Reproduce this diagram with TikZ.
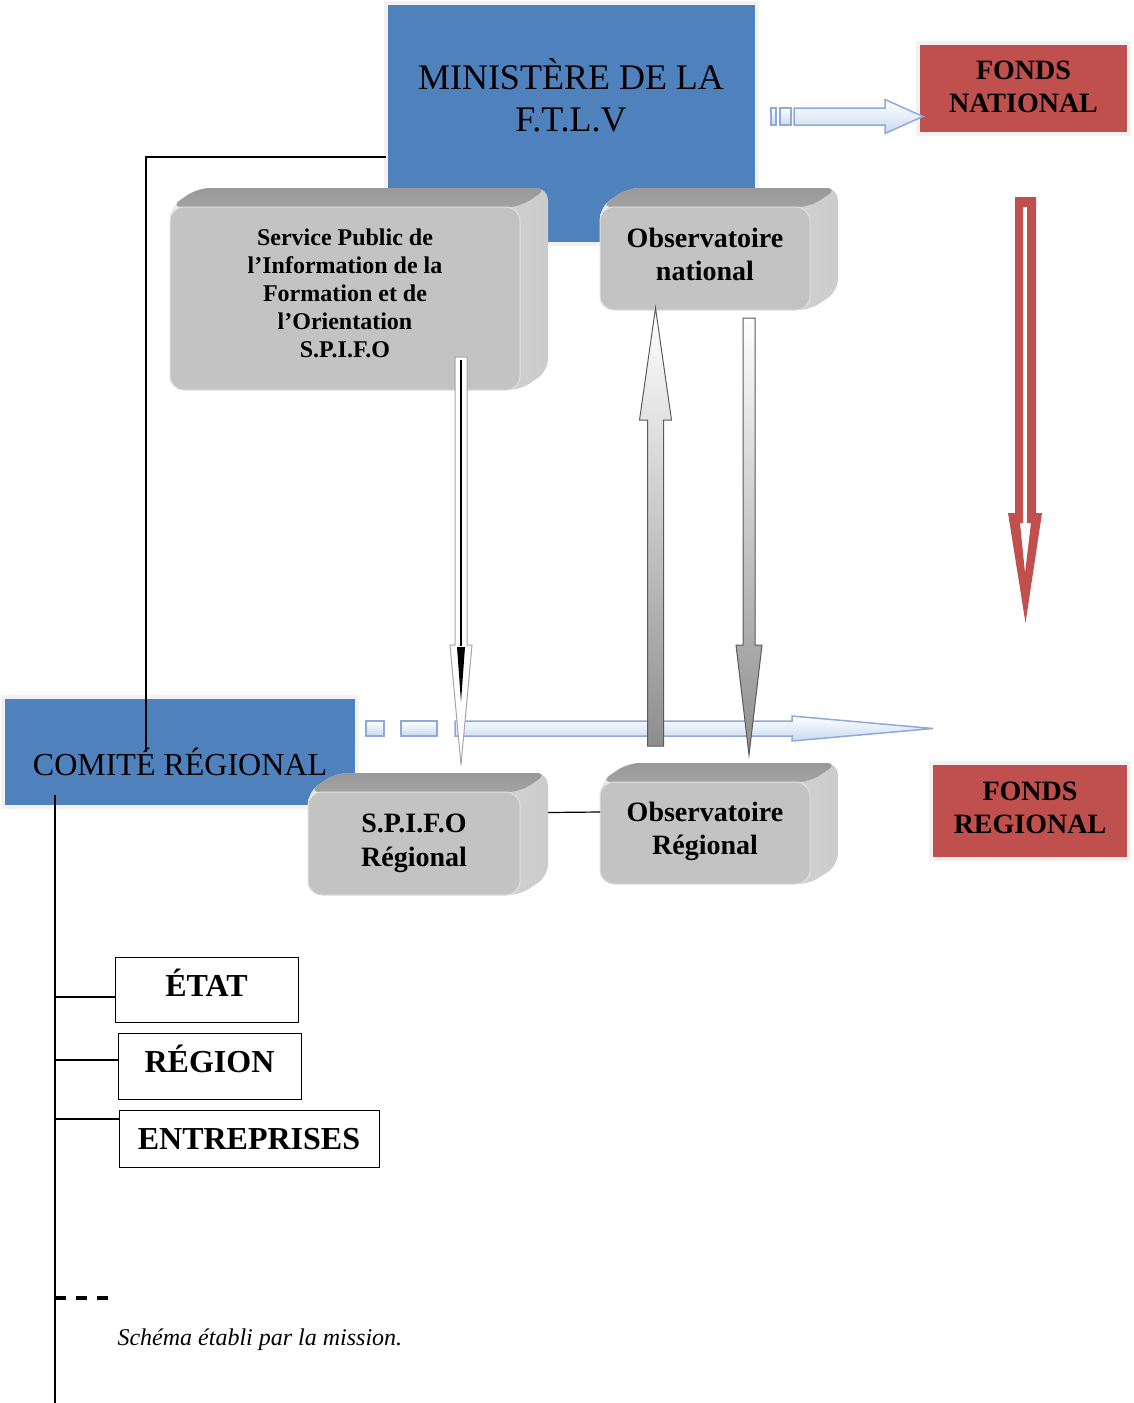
\documentclass[tikz,border=0pt]{standalone}
\usepackage{fontspec}
\setmainfont{Liberation Serif}
\usetikzlibrary{calc}

\definecolor{ministryblue}{HTML}{4F81BD}
\definecolor{fondsred}{HTML}{C0504D}
\definecolor{framegray}{HTML}{F2F2F2}
\definecolor{facefront}{HTML}{C3C3C3}
\definecolor{facetop}{HTML}{A2A2A2}
\definecolor{flowedge}{HTML}{8EAADB}
\definecolor{flowfill}{HTML}{C9DAF0}
\definecolor{greyedge}{HTML}{5A5A5A}
\definecolor{greyfill}{HTML}{8E8E8E}

\pgfdeclarelayer{bg}
\pgfdeclarelayer{sides}
\pgfsetlayers{bg,sides,main}

\tikzset{
  bluebox/.style={fill=ministryblue, draw=framegray, line width=4pt, inner sep=0pt, outer sep=0pt},
  redbox/.style={fill=fondsred, draw=framegray, line width=4pt, inner sep=0pt, outer sep=0pt},
  redtext/.style={font=\bfseries\fontsize{28}{33}\selectfont, align=center},
  frontface/.style={fill=facefront, draw=black!12, line width=1pt, rounded corners=14pt,
    inner sep=0pt, outer sep=0pt},
  facetext/.style={align=center, inner sep=0pt},
  listbox/.style={draw=black, line width=1pt, inner sep=0pt, outer sep=0pt,
    font=\bfseries\fontsize{32}{36}\selectfont, text height=22pt, text depth=0pt},
  link/.style={draw=black, line width=1.2pt},
  flowarrow/.style={draw=flowedge, line width=1.5pt, top color=white, bottom color=flowfill},
  greyarrow/.style={draw=greyedge, line width=1pt, top color=white, bottom color=greyfill},
  thinarrow/.style={draw=black!35, line width=1pt, fill=white},
}

% horizontal block arrow: style, tail, tip, shaft half width, head half width, head length
\newcommand\harrow[6]{%
  \path[#1] let \p1=(#2), \p2=(#3) in
    (\x1,\y1+#4pt) -- (\x2-#6pt,\y1+#4pt) -- (\x2-#6pt,\y1+#5pt) -- (\x2,\y2)
    -- (\x2-#6pt,\y1-#5pt) -- (\x2-#6pt,\y1-#4pt) -- (\x1,\y1-#4pt) -- cycle;}
% vertical block arrow: the head base lies at tip + (signed) head length
\newcommand\varrow[6]{%
  \path[#1] let \p1=(#2), \p2=(#3) in
    (\x1-#4pt,\y1) -- (\x1-#4pt,\y2+#6pt) -- (\x1-#5pt,\y2+#6pt) -- (\x2,\y2)
    -- (\x1+#5pt,\y2+#6pt) -- (\x1+#4pt,\y2+#6pt) -- (\x1+#4pt,\y1) -- cycle;}
% top and right faces of a raised box behind its front node
\newcommand\bevelfaces[1]{%
  \begin{pgfonlayer}{sides}
    \path[left color=white!92!black, right color=black!20, rounded corners=12pt]
      (#1.south west) -- (#1.north west) -- ($(#1.north west)+(28,-19)$)
      -- ($(#1.north east)+(28,-19)$) -- ($(#1.south east)+(28,-19)$)
      -- (#1.south east) -- cycle;
    \path[top color=black!40, bottom color=facetop, rounded corners=12pt]
      (#1.north west) -- ($(#1.north west)+(28,-19)$)
      -- ($(#1.north east)+(28,-19)$) -- (#1.north east) -- cycle;
  \end{pgfonlayer}}

\begin{document}
\begin{tikzpicture}[x=1pt, y=-1pt]
\begin{pgfonlayer}{bg}
  \fill[white] (0,0) rectangle (1133,1403);
  \node[bluebox, minimum width=371pt, minimum height=241pt] (ministry) at (571.5,123.5) {};
  \node[bluebox, minimum width=354pt, minimum height=110pt] (comite) at (180,752) {};
\end{pgfonlayer}
\useasboundingbox (0,0) rectangle (1133,1403);

% titles of the two blue boxes
\node[font=\fontsize{36}{42}\selectfont, align=center] (ministrytitle) at (571,95) {MINISTÈRE DE LA\\F.T.L.V};
\node[font=\fontsize{32}{36}\selectfont] (comitetitle) at (180,762) {COMITÉ RÉGIONAL};

% funds
\node[redbox, minimum width=211pt, minimum height=91pt] (fondsnat) at (1023.5,88.5) {};
\node[redtext] (fondsnattext) at ([yshift=2pt]fondsnat.center) {FONDS\\NATIONAL};
\node[redbox, minimum width=198pt, minimum height=96pt] (fondsreg) at (1030,811) {};
\node[redtext] (fondsregtext) at ([yshift=3pt]fondsreg.center) {FONDS\\REGIONAL};

% raised grey boxes
\node[frontface, minimum width=350pt, minimum height=183pt] (spifo) at (345,298.5) {};
\node[frontface, minimum width=210pt, minimum height=103pt] (obsnat) at (705,258.5) {};
\node[frontface, minimum width=212pt, minimum height=103pt] (spiforeg) at (414,843.5) {};
\node[frontface, minimum width=210pt, minimum height=102pt] (obsreg) at (705,833) {};
\bevelfaces{spifo}
\bevelfaces{obsnat}
\bevelfaces{spiforeg}
\bevelfaces{obsreg}
\node[facetext, font=\bfseries\fontsize{24}{28}\selectfont] (spifotext) at ([yshift=5pt]spifo.center)
  {Service Public de\\l’Information de la\\Formation et de\\l’Orientation\\S.P.I.F.O};
\node[facetext, font=\bfseries\fontsize{28}{33}\selectfont] (obsnattext) at ([yshift=4pt]obsnat.center)
  {Observatoire\\national};
\node[facetext, font=\bfseries\fontsize{28}{34}\selectfont] (spiforegtext) at (spiforeg.center)
  {S.P.I.F.O\\Régional};
\node[facetext, font=\bfseries\fontsize{28}{33}\selectfont] (obsregtext) at ([yshift=2pt]obsreg.center)
  {Observatoire\\Régional};

% members of the regional committee
\node[listbox, minimum width=183pt, minimum height=65pt, text depth=9pt] (etat) at (206.5,989.5) {ÉTAT};
\node[listbox, minimum width=183pt, minimum height=66pt, text depth=9pt] (region) at (209.5,1066) {RÉGION};
\node[listbox, minimum width=260pt, minimum height=57pt] (entreprises) at (249,1138.5) {ENTREPRISES};

\node[anchor=west, font=\itshape\fontsize{24}{28}\selectfont] (caption) at (114,1340)
  {Schéma établi par la mission.};

% connecting lines
\coordinate (comiteend) at (146,752);
\draw[link] ([yshift=-33.5pt]ministry.west) -| (comiteend);
\coordinate (trunktop) at (55,795);
\coordinate (trunkbottom) at (55,1403);
\draw[link] (trunktop) -- (trunkbottom);
\coordinate (b1) at (55,997);
\coordinate (b2) at (55,1060);
\coordinate (b3) at (55,1119);
\coordinate (b4) at (55,1298);
\draw[link] (b1) -- (b1 -| etat.west);
\draw[link] (b2) -- (b2 -| region.west);
\draw[link] (b3) -- (b3 -| entreprises.west);
\draw[line width=3.5pt, dash pattern=on 11pt off 10pt] (b4) -- ++(55,0);
\draw[link] ([xshift=28pt,yshift=31pt]spiforeg.east) -- ([yshift=21pt]obsreg.west);

% ministry to national fund
\coordinate (natflowtail) at (794,116.5);
\coordinate (natflowtip) at (923,116.5);
\path[flowarrow] (771,108) rectangle (776,125);
\path[flowarrow] (780,108) rectangle (791,125);
\harrow{flowarrow}{natflowtail}{natflowtip}{8.5}{17}{38}

% regional flow
\coordinate (regflowtail) at (455,728.5);
\coordinate (regflowtip) at (933,728.5);
\path[flowarrow] (366,721) rectangle (384,736);
\path[flowarrow] (401,721) rectangle (437,736);
\harrow{flowarrow}{regflowtail}{regflowtip}{7.5}{12.5}{141}

% S.P.I.F.O to its regional branch
\coordinate (spifotail) at (461,357);
\coordinate (spifotip) at (461,765);
\varrow{thinarrow}{spifotail}{spifotip}{6}{11}{120}
\draw[black, line width=1.6pt] (461,360) -- (461,646);
\fill[black] (457,647) -- (465,647) -- (461,702) -- cycle;

% exchanges between the observatories
\coordinate (obsuptail) at (655.5,746);
\coordinate (obsuptip) at (655.5,308);
\varrow{greyarrow}{obsuptail}{obsuptip}{8}{16}{-112}
\coordinate (obsdowntail) at (749,318);
\coordinate (obsdowntip) at (749,755);
\varrow{greyarrow}{obsdowntail}{obsdowntip}{6}{13}{110}

% national to regional fund (outlined arrow)
\begin{scope}[shift={(1025.5,197)}]
  \fill[fondsred, even odd rule]
    (-10.5,0) -- (10.5,0) -- (10.5,316) -- (16.5,316) -- (0,426) -- (-17.5,316) -- (-10.5,316) -- cycle
    (-2.5,10) -- (1.5,10) -- (1.5,326) -- (5.5,326) -- (-0.5,376) -- (-5.5,326) -- (-2.5,326) -- cycle;
\end{scope}
\end{tikzpicture}
\end{document}
